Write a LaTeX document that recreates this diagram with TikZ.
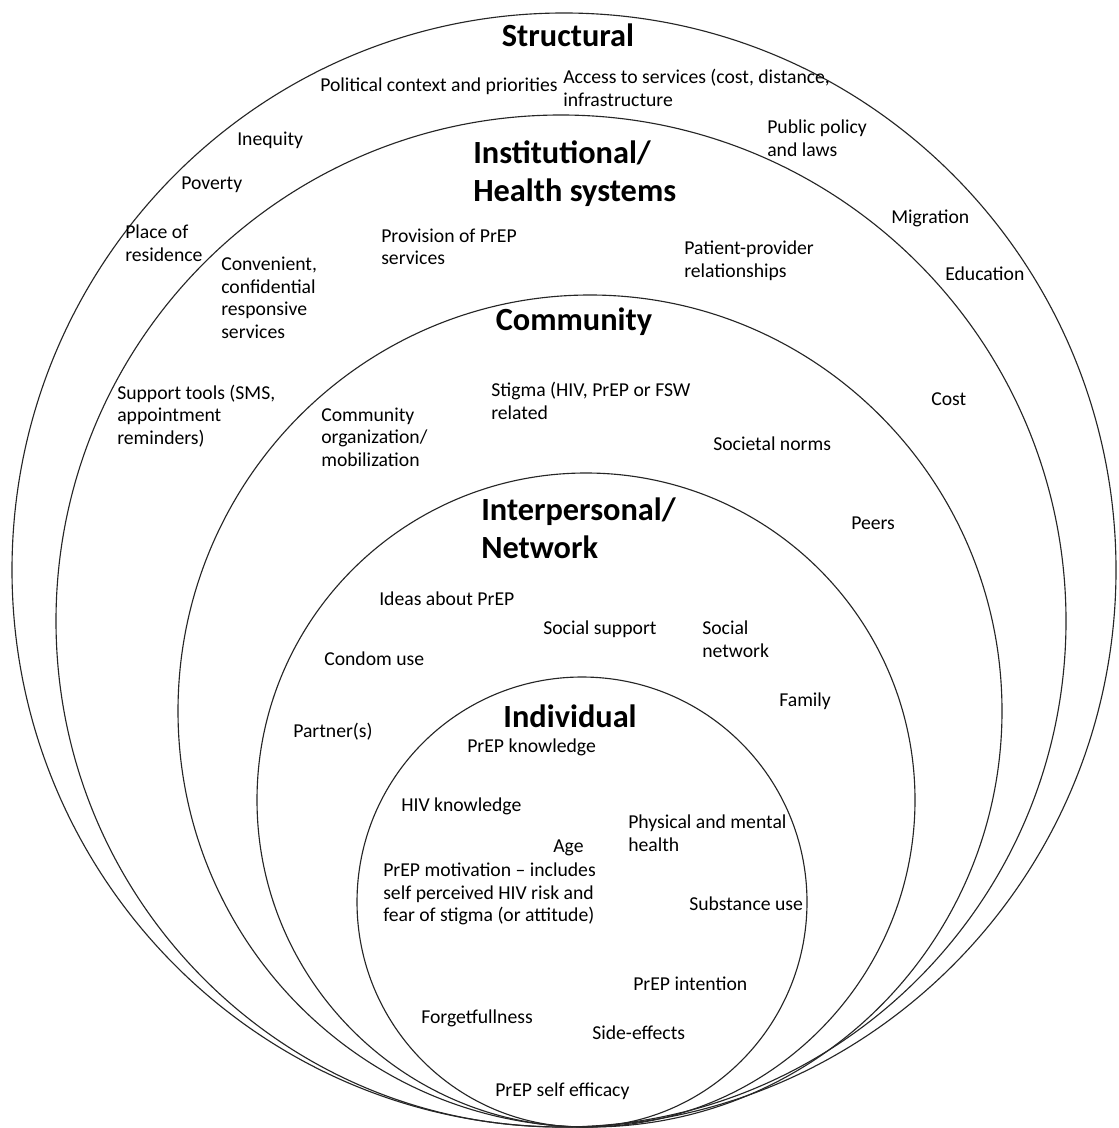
\documentclass[tikz,border=0pt]{standalone}
\usepackage{fontspec}
\setmainfont{Carlito}

\begin{document}
\begin{tikzpicture}[x=0.025cm,y=-0.025cm,
  ring/.style={draw=black!85,line width=0.8pt},
  level/.style={anchor=west,inner sep=0pt,align=left,font=\fontsize{23}{27}\selectfont\bfseries},
  factor/.style={anchor=west,inner sep=0pt,align=left,font=\fontsize{14}{16}\selectfont}]
\useasboundingbox [fill=white] (0,0) rectangle (1118,1128);
% the five levels, all resting on the same bottom point
\draw [ring] (564,570) ellipse (552 and 557);
\draw [ring] (561,621) ellipse (505 and 506);
\draw [ring] (590,711) ellipse (412 and 416);
\draw [ring] (586,800) ellipse (329 and 327);
\draw [ring] (582,902) ellipse (225 and 225);
% level titles
\node [level,anchor=center] (structural) at (568,35) {Structural};
\node [level] (institutional) at (473,174) {Institutional/\\Health systems};
\node [level,anchor=center] (community) at (574,322) {Community};
\node [level] (interpersonal) at (481,528) {Interpersonal/\\Network};
\node [level,anchor=center] (individual) at (570,716) {Individual};
% structural factors
\node [factor] (political) at (320,86) {Political context and priorities};
\node [factor] (access) at (563,88) {Access to services (cost, distance,\\infrastructure};
\node [factor] (policy) at (767,138) {Public policy\\and laws};
\node [factor] (inequity) at (237,140) {Inequity};
\node [factor] (poverty) at (181,185) {Poverty};
\node [factor] (residence) at (125,243) {Place of\\residence};
\node [factor] (migration) at (891,218) {Migration};
\node [factor] (education) at (945,274) {Education};
\node [factor] (cost) at (931,399) {Cost};
% institutional factors
\node [factor] (provision) at (381,247) {Provision of PrEP\\services};
\node [factor] (patient) at (684,261) {Patient-provider\\relationships};
\node [factor] (convenient) at (221,298) {Convenient,\\confidential\\responsive\\services};
\node [factor] (tools) at (117,416) {Support tools (SMS,\\appointment\\reminders)};
% community factors
\node [factor] (stigma) at (491,401) {Stigma (HIV, PrEP or FSW\\related};
\node [factor] (organization) at (321,437) {Community\\organization/\\mobilization};
\node [factor] (norms) at (713,444) {Societal norms};
\node [factor] (peers) at (851,523) {Peers};
% interpersonal factors
\node [factor] (ideas) at (379,599) {Ideas about PrEP};
\node [factor] (support) at (543,629) {Social support};
\node [factor] (network) at (702,639) {Social\\network};
\node [factor] (condom) at (324,659) {Condom use};
\node [factor] (family) at (779,701) {Family};
\node [factor] (partner) at (293,732) {Partner(s)};
% individual factors
\node [factor] (knowledge) at (467,747) {PrEP knowledge};
\node [factor] (hiv) at (401,806) {HIV knowledge};
\node [factor] (health) at (628,833) {Physical and mental\\health};
\node [factor] (age) at (553,848) {Age};
\node [factor] (motivation) at (383,894) {PrEP motivation -- includes\\self perceived HIV risk and\\fear of stigma (or attitude)};
\node [factor] (substance) at (689,904) {Substance use};
\node [factor] (intention) at (633,984) {PrEP intention};
\node [factor] (forget) at (421,1018) {Forgetfullness};
\node [factor] (side) at (592,1033) {Side-effects};
\node [factor] (efficacy) at (495,1091) {PrEP self efficacy};
\end{tikzpicture}
\end{document}
